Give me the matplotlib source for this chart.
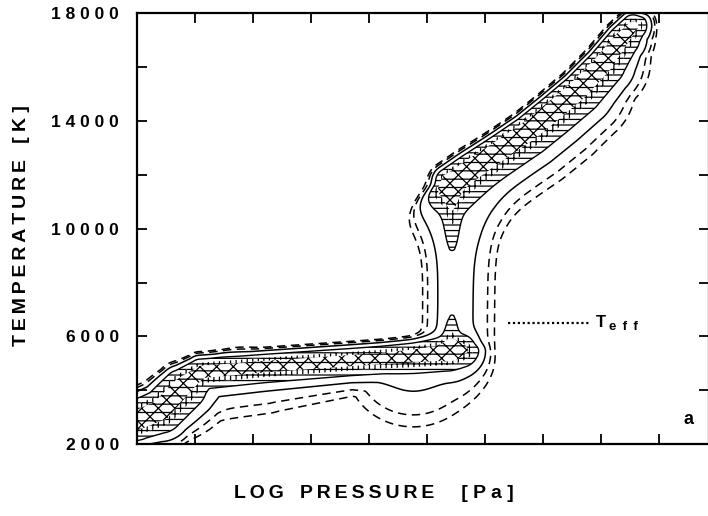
import numpy as np
import matplotlib
matplotlib.use("Agg")
import matplotlib.pyplot as plt

# ---------------- data ----------------
# ridge of the cool (lower) branch: log pressure (tick units) and temperature [K]
low_logp = [-0.21, 0.00, 0.40, 0.74, 1.09, 2.17, 3.67, 4.20, 4.76, 5.35, 5.60]
low_temp = [2780, 2880, 3300, 4160, 4720, 4910, 5130, 5210, 5320, 5460, 5540]
low_amp = [0.95, 0.95, 0.95, 0.9, 0.85, 0.85, 0.85, 0.85, 0.85, 0.9, 0.7]
low_w_up = [0.45, 0.45, 0.42, 0.35, 0.26, 0.25, 0.25, 0.25, 0.25, 0.27, 0.27]   # kK
low_w_dn = [0.42, 0.42, 0.50, 0.55, 0.38, 0.35, 0.33, 0.33, 0.36, 0.38, 0.38]   # kK
low_halo_amp = [0.10, 0.10, 0.10, 0.10, 0.10, 0.10, 0.10, 0.11, 0.133, 0.08, 0.08]
low_halo_up = [0.35, 0.35, 0.35, 0.35, 0.32, 0.30, 0.30, 0.30, 0.30, 0.35, 0.35]
low_halo_dn = [0.60, 0.60, 0.90, 1.20, 1.20, 1.12, 0.85, 1.00, 1.52, 0.50, 0.40]

# ridge of the hot (upper) branch
up_logp = [5.36, 5.74, 6.26, 6.69, 7.12, 7.55, 7.98, 8.33, 8.55]
up_temp = [11800, 12360, 13100, 13730, 14480, 15260, 16190, 17090, 17550]
up_amp = [0.9, 0.95, 0.95, 0.95, 0.95, 0.95, 0.95, 0.9, 0.8]
up_w_up = [0.24, 0.24, 0.24, 0.24, 0.24, 0.24, 0.24, 0.24, 0.24]
up_w_dn = [0.55, 0.55, 0.55, 0.55, 0.55, 0.55, 0.50, 0.40, 0.30]
up_halo_amp = [0.16, 0.16, 0.16, 0.16, 0.16, 0.16, 0.16, 0.14, 0.12]
up_halo_up = [0.30, 0.30, 0.30, 0.30, 0.30, 0.30, 0.30, 0.30, 0.30]
up_halo_dn = [1.20, 1.25, 1.25, 1.25, 1.25, 1.20, 1.00, 0.70, 0.45]

# transition channel between the branches
ch_logp = [5.43, 5.44, 5.45]
ch_temp = [5840, 8500, 11050]
ch_amp = [0.13, 0.13, 0.13]
ch_w_left = [0.63, 0.63, 0.63]
ch_w_right = [0.90, 0.90, 0.90]

# tails (tapered lobes) of the two branches
tail_up_logp = [5.42, 5.43]
tail_up_temp = [11600, 9300]
tail_up_amp = [0.60, 0.13]
tail_lo_logp = [5.40, 5.43]
tail_lo_temp = [5450, 6700]
tail_lo_amp = [0.55, 0.14]
tail_w = [0.20, 0.17]

contour_dashed = [0.028, 0.045]
contour_solid = [0.09]
fill_levels = [0.25, 0.5, 0.75, 10.0]
fill_hatches = ["---", "+++", "--xx"]

yticks = [2000, 6000, 10000, 14000, 18000]
yminor = [4000, 8000, 12000, 16000]
xticks = [1, 2, 3, 4, 5, 6, 7, 8, 9]
teff_logp = [6.40, 7.81]
teff_temp = [6500, 6500]

# ---------------- density field ----------------
XS = 58.0 / 26.85   # makes one log-P unit comparable to 1000 K on the page
gx = np.linspace(-0.6, 10.2, 600)
gt = np.linspace(1500, 18600, 800)
GX, GT = np.meshgrid(gx, gt)
PX, PY = GX * XS, GT / 1000.0


def tube(xs, ts, amp, wl, wr):
    xs = np.asarray(xs) * XS
    ys = np.asarray(ts) / 1000.0
    amp, wl, wr = map(np.asarray, (amp, wl, wr))
    best = np.zeros_like(PX)
    for i in range(len(xs) - 1):
        ax0, ay0, bx, by = xs[i], ys[i], xs[i + 1], ys[i + 1]
        dx, dy = bx - ax0, by - ay0
        L2 = dx * dx + dy * dy
        t = np.clip(((PX - ax0) * dx + (PY - ay0) * dy) / L2, 0, 1)
        cx, cy = ax0 + t * dx, ay0 + t * dy
        d = np.hypot(PX - cx, PY - cy)
        cross = (dx * (PY - ay0) - dy * (PX - ax0)) / (np.sqrt(L2) * np.maximum(d, 1e-6))
        w = 0.5 * (1 + np.tanh(4 * cross))
        sl = wl[i] + t * (wl[i + 1] - wl[i])
        sr = wr[i] + t * (wr[i + 1] - wr[i])
        s = w * sl + (1 - w) * sr
        a = amp[i] + t * (amp[i + 1] - amp[i])
        best = np.maximum(best, a * np.exp(-0.5 * (d / s) ** 2))
    return best


Z = (tube(low_logp, low_temp, low_amp, low_w_up, low_w_dn)
     + tube(low_logp, low_temp, low_halo_amp, low_halo_up, low_halo_dn)
     + tube(up_logp, up_temp, up_amp, up_w_up, up_w_dn)
     + tube(up_logp, up_temp, up_halo_amp, up_halo_up, up_halo_dn)
     + tube(ch_logp, ch_temp, ch_amp, ch_w_left, ch_w_right)
     + tube(tail_up_logp, tail_up_temp, tail_up_amp, tail_w, tail_w)
     + tube(tail_lo_logp, tail_lo_temp, tail_lo_amp, tail_w, tail_w))

# ---------------- drawing ----------------
plt.rcParams["hatch.color"] = "black"
plt.rcParams["hatch.linewidth"] = 0.9
FONT = ["Liberation Sans", "DejaVu Sans"]

fig = plt.figure(figsize=(7.08, 5.16), dpi=100)
ax = fig.add_axes([137 / 708, 72 / 516, 572 / 708, 430.5 / 516])

ax.contourf(GX, GT, Z, levels=fill_levels, colors="none", hatches=fill_hatches)
ax.contour(GX, GT, Z, levels=fill_levels[:1], colors="black", linewidths=1.0)
ax.contour(GX, GT, Z, levels=contour_solid, colors="black", linewidths=1.1)
ax.contour(GX, GT, Z, levels=contour_dashed, colors="black", linewidths=1.1,
           linestyles=[(0, (5.5, 3.6))])

ax.plot(teff_logp, teff_temp, color="black", lw=1.6, ls=(0, (1.0, 1.2)))
ax.text(teff_logp[1] + 0.1, teff_temp[0], "T", fontsize=12, fontweight="bold",
        family=FONT, ha="left", va="center")
ax.text(teff_logp[1] + 0.32, teff_temp[0] - 170, "e\u2009 f\u2009 f", fontsize=9.5,
        fontweight="bold", family=FONT, ha="left", va="center")
ax.text(9.50, 2894, "a", fontsize=13, fontweight="bold", family=FONT,
        ha="center", va="center")

ax.set_xlim(0, 9.86)
ax.set_ylim(2000, 18000)
ax.set_xticks(xticks)
ax.set_xticklabels([])
ax.set_yticks(yticks + yminor)
ax.set_yticklabels([" ".join(str(v)) for v in yticks] + [""] * len(yminor))
ax.tick_params(direction="in", length=7, width=1.3, top=True, right=True,
               pad=13)
for lab in ax.get_yticklabels():
    lab.set_fontsize(12.5)
    lab.set_fontweight("bold")
    lab.set_family(FONT)
for sp in ax.spines.values():
    sp.set_linewidth(1.6)

fig.text(22 / 708, 1 - 226 / 516, "T\u2009E\u2009M\u2009P\u2009E\u2009R\u2009A\u2009T\u2009U\u2009R\u2009E   [ K ]",
         rotation=90, fontsize=14, fontweight="bold", family=FONT,
         ha="center", va="center")
fig.text(374 / 708, 1 - 494 / 516, "L\u2009O\u2009G   P\u2009R\u2009E\u2009S\u2009S\u2009U\u2009R\u2009E     [ P a ]",
         fontsize=14, fontweight="bold", family=FONT, ha="center", va="center")

fig.savefig("out.png", dpi=100)
